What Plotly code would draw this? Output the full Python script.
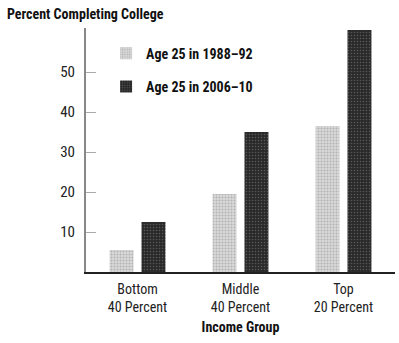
import plotly.graph_objects as go

categories = ["Bottom<br>40 Percent", "Middle<br>40 Percent", "Top<br>20 Percent"]
series_names = ["Age 25 in 1988\u201392", "Age 25 in 2006\u201310"]
early_values = [5.5, 19.5, 36.5]
late_values = [12.5, 35.0, 60.5]
y_ticks = [10, 20, 30, 40, 50]

FONT = "Roboto Condensed, Liberation Sans Narrow, Liberation Sans, Arial, sans-serif"

fig = go.Figure()
fig.add_trace(go.Bar(
    x=categories, y=early_values, name="<b>" + series_names[0] + "</b>",
    legendgroup="a",
    marker=dict(color="#d9d9d9", line=dict(width=0),
                pattern=dict(shape=".", fgcolor="#8a8a8a", size=3, solidity=0.35)),
))
fig.add_trace(go.Bar(
    x=categories, y=late_values, name="<b>" + series_names[1] + "</b>",
    legendgroup="b",
    marker=dict(color="#2a2a2a", line=dict(width=0),
                pattern=dict(shape=".", fgcolor="#8a8a8a", size=3, solidity=0.2)),
))

fig.update_layout(
    width=399, height=343,
    margin=dict(l=86, r=4, t=28, b=71),
    paper_bgcolor="white", plot_bgcolor="white",
    barmode="group", bargap=0.38, bargroupgap=0.25,
    font=dict(family=FONT, size=13, color="#1a1a1a"),
    showlegend=True,
    legend=dict(x=0.065, y=0.96, xanchor="left", yanchor="top",
                font=dict(family=FONT, size=14, color="#111"),
                bgcolor="rgba(0,0,0,0)", itemwidth=30, tracegroupgap=12,
                traceorder="grouped"),
    annotations=[dict(text="<b>Percent Completing College</b>",
                      x=-81/309, y=1 + 14/244,
                      xref="paper", yref="paper", showarrow=False,
                      xanchor="left", yanchor="middle",
                      font=dict(family=FONT, size=14, color="#111"))],
)

fig.update_yaxes(
    range=[0, 61], tickvals=y_ticks, ticktext=[str(v) for v in y_ticks],
    showgrid=False, zeroline=False, showline=True, linecolor="#888", linewidth=2,
    ticks="inside", ticklen=10, tickcolor="#aaa", tickwidth=1,
    tickfont=dict(family=FONT, size=15, color="#222"), ticklabelstandoff=6,
)
fig.update_xaxes(
    showgrid=False, showline=True, linecolor="#222", linewidth=1.5, ticks="",
    tickfont=dict(family=FONT, size=14, color="#222"), ticklabelstandoff=3,
    title=dict(text="<b>Income Group</b>", font=dict(family=FONT, size=14, color="#111"), standoff=8),
)

fig.write_html("out.html")
